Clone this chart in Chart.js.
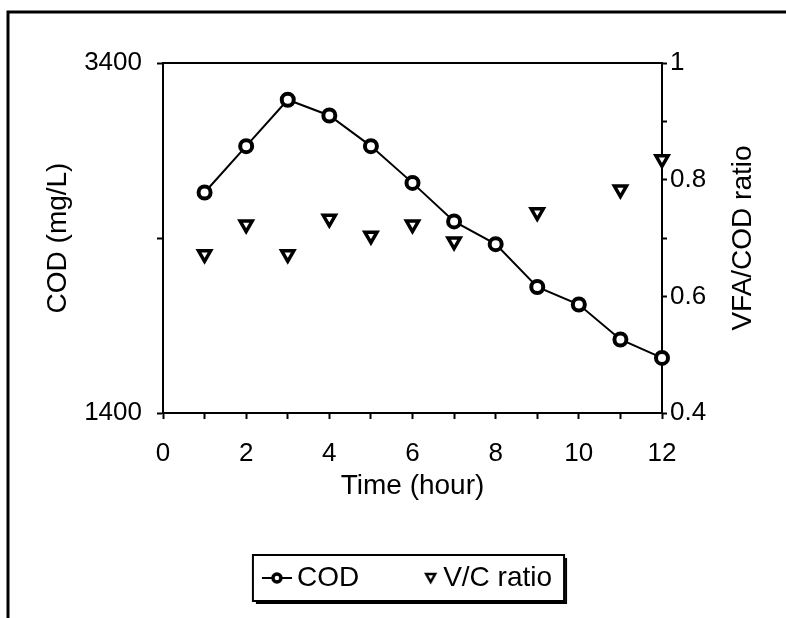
<!DOCTYPE html>
<html lang="en">
<head>
<meta charset="utf-8">
<title>COD and VFA/COD ratio</title>
<script src="https://cdn.jsdelivr.net/npm/chart.js@4.4.0/dist/chart.umd.min.js"></script>
<style>
  html, body { margin: 0; padding: 0; background: #fff; }
</style>
</head>
<body>
<canvas id="myChart" width="786" height="618"></canvas>

<script>
// data
const hours = [1, 2, 3, 4, 5, 6, 7, 8, 9, 10, 11, 12];
const cod = [2660, 2925, 3190, 3100, 2925, 2715, 2495, 2365, 2120, 2020, 1820, 1715];
const vcRatio = [0.672, 0.723, 0.672, 0.733, 0.704, 0.723, 0.694, null, 0.744, null, 0.783, 0.835];
const codTickLabels = [1400, 3400];
const ratioTickLabels = [0.4, 0.6, 0.8, 1];

const FONT = "'Liberation Sans', Arial, sans-serif";

// legend icons (drawn toward the right so they sit close to the text)
function codIcon() {
  const c = document.createElement('canvas');
  c.width = 38; c.height = 16;
  const g = c.getContext('2d');
  g.strokeStyle = '#000';
  g.lineWidth = 2;
  g.beginPath(); g.moveTo(8, 8); g.lineTo(38, 8); g.stroke();
  g.beginPath(); g.arc(23, 8, 4, 0, Math.PI * 2);
  g.fillStyle = '#fff'; g.fill();
  g.lineWidth = 3.5; g.stroke();
  return c;
}
function triIcon() {
  const c = document.createElement('canvas');
  c.width = 38; c.height = 16;
  const g = c.getContext('2d');
  g.strokeStyle = '#000';
  g.lineWidth = 2.5;
  g.beginPath(); g.moveTo(26, 4); g.lineTo(35, 4); g.lineTo(30.5, 12); g.closePath();
  g.stroke();
  return c;
}

// frame, top line of plot box, right title, legend box
const decor = {
  id: 'decor',
  beforeDatasetsDraw(chart) {
    const { ctx, chartArea: a } = chart;
    ctx.save();
    ctx.strokeStyle = '#000';
    ctx.lineWidth = 2;
    ctx.beginPath();
    ctx.moveTo(a.left, a.top);
    ctx.lineTo(a.right, a.top);
    ctx.stroke();
    ctx.restore();
  },
  afterDraw(chart) {
    const { ctx, chartArea: a } = chart;
    ctx.save();
    ctx.strokeStyle = '#000';
    ctx.lineWidth = 3;
    ctx.beginPath();
    ctx.moveTo(8, 618);
    ctx.lineTo(8, 12);
    ctx.lineTo(786, 12);
    ctx.stroke();

    // right axis title, reading upward
    ctx.fillStyle = '#000';
    ctx.font = '28px ' + FONT;
    ctx.textAlign = 'center';
    ctx.textBaseline = 'middle';
    ctx.translate(743, (a.top + a.bottom) / 2);
    ctx.rotate(-Math.PI / 2);
    ctx.fillText('VFA/COD ratio', 0, 0);
    ctx.setTransform(1, 0, 0, 1, 0, 0);

    // legend box with shadow
    const hb = chart.legend.legendHitBoxes;
    if (hb && hb.length) {
      const l = Math.min(...hb.map(b => b.left)) - 10;
      const r = Math.max(...hb.map(b => b.left + b.width)) + 12;
      const t = Math.min(...hb.map(b => b.top)) - 9;
      const btm = Math.max(...hb.map(b => b.top + b.height)) + 9;
      ctx.lineWidth = 2;
      ctx.strokeRect(l, t, r - l, btm - t);
      ctx.beginPath();
      ctx.moveTo(l + 3, btm + 2);
      ctx.lineTo(r + 2, btm + 2);
      ctx.lineTo(r + 2, t + 3);
      ctx.stroke();
    }
    ctx.restore();
  }
};

const ctx = document.getElementById('myChart').getContext('2d');
const myChart = new Chart(ctx, {
  type: 'line',
  data: {
    datasets: [{
      label: 'COD',
      data: hours.map((h, i) => ({ x: h, y: cod[i] })),
      yAxisID: 'y',
      borderColor: '#000',
      borderWidth: 2,
      pointRadius: 6,
      pointBorderWidth: 4,
      pointBackgroundColor: '#fff',
      pointBorderColor: '#000',
      clip: false
    }, {
      label: 'V/C ratio',
      data: hours.map((h, i) => ({ x: h, y: vcRatio[i] })),
      yAxisID: 'y1',
      showLine: false,
      pointStyle: 'triangle',
      rotation: 180,
      pointRadius: 7,
      pointBorderWidth: 3.5,
      pointBackgroundColor: '#fff',
      pointBorderColor: '#000',
      clip: false
    }]
  },
  options: {
    responsive: false,
    animation: false,
    layout: { padding: { left: 29, right: 0, top: 63, bottom: 16 } },
    scales: {
      x: {
        type: 'linear',
        min: 0, max: 12,
        ticks: {
          stepSize: 1, autoSkip: false, padding: 19, color: '#000',
          font: { family: FONT, size: 26 },
          callback: v => (v % 2 === 0 ? String(v) : '')
        },
        grid: { drawOnChartArea: false, tickLength: 6, tickWidth: 2, color: '#000' },
        border: { color: '#000', width: 2 },
        title: {
          display: true, text: 'Time (hour)', color: '#000',
          font: { family: FONT, size: 28 },
          padding: { top: 0, bottom: 11 }
        },
        afterFit: s => { s.height = 101; }
      },
      y: {
        position: 'left',
        min: 1400, max: 3400,
        ticks: {
          stepSize: 1000, padding: 15, color: '#000',
          font: { family: FONT, size: 26 },
          callback: v => (codTickLabels.includes(v) ? String(v) : '')
        },
        grid: { drawOnChartArea: false, tickLength: 6, tickWidth: 2, color: '#000' },
        border: { color: '#000', width: 2 },
        title: {
          display: true, text: 'COD (mg/L)', color: '#000',
          font: { family: FONT, size: 28 },
          padding: { top: 12, bottom: 0 }
        },
        afterFit: s => { s.width = 134; }
      },
      y1: {
        position: 'right',
        min: 0.4, max: 1,
        ticks: {
          stepSize: 0.1, padding: 3, color: '#000',
          font: { family: FONT, size: 26 },
          callback: v => {
            const r = Math.round(v * 10) / 10;
            return ratioTickLabels.includes(r) ? String(r) : '';
          }
        },
        grid: { drawOnChartArea: false, tickLength: 5, tickWidth: 2, color: '#000' },
        border: { color: '#000', width: 2 },
        afterFit: s => { s.width = 124; }
      }
    },
    plugins: {
      legend: {
        position: 'bottom',
        labels: {
          usePointStyle: true,
          pointStyleWidth: 20,
          boxHeight: 16,
          padding: 50,
          color: '#000',
          font: { family: FONT, size: 28 },
          generateLabels: () => [
            { text: 'COD', pointStyle: codIcon(), lineWidth: 0, fillStyle: '#000', strokeStyle: '#000', datasetIndex: 0 },
            { text: 'V/C ratio', pointStyle: triIcon(), lineWidth: 0, fillStyle: '#000', strokeStyle: '#000', datasetIndex: 1 }
          ]
        }
      },
      tooltip: { enabled: false }
    }
  },
  plugins: [decor]
});
</script>
</body>
</html>
